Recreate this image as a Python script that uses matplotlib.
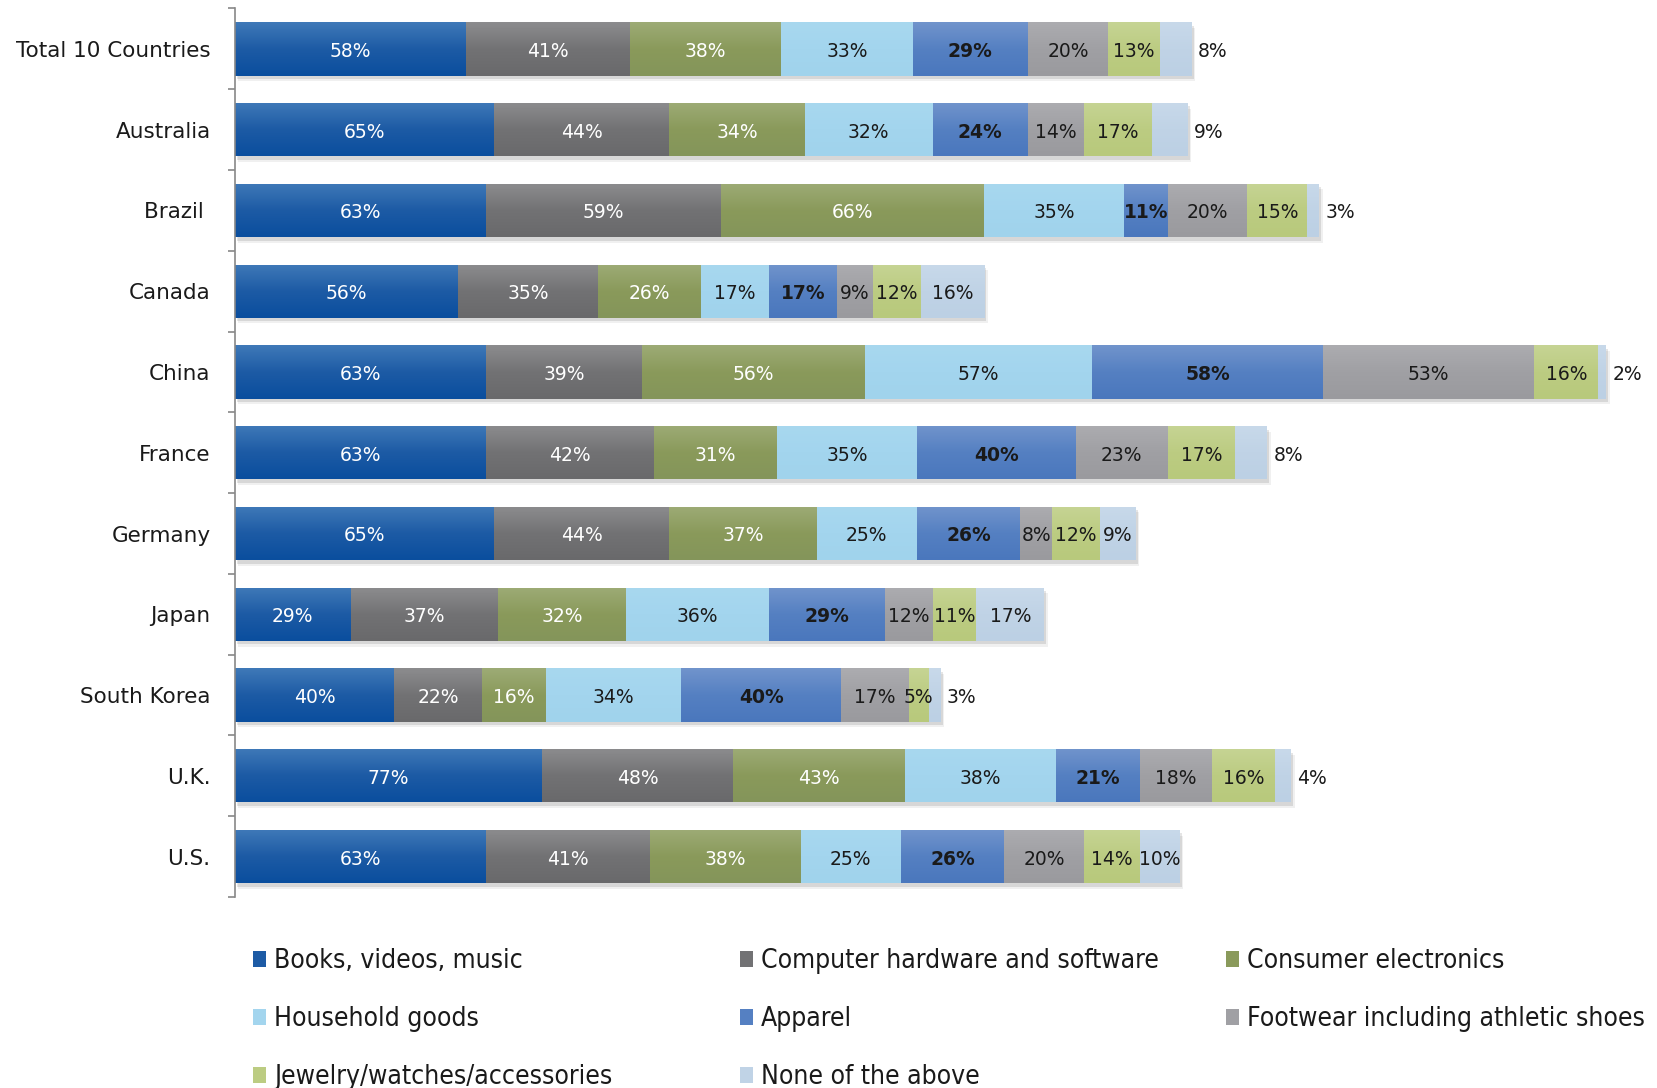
import matplotlib
matplotlib.use("Agg")
import matplotlib.pyplot as plt
import matplotlib.patheffects as pe
from matplotlib.patches import Patch
from matplotlib.colors import to_rgb
import numpy as np

countries = ["Total 10 Countries", "Australia", "Brazil ", "Canada", "China", "France",
             "Germany", "Japan", "South Korea", "U.K.", "U.S."]
categories = ["Books, videos, music", "Computer hardware and software", "Consumer electronics",
              "Household goods", "Apparel", "Footwear including athletic shoes",
              "Jewelry/watches/accessories", "None of the above"]

books      = [58, 65, 63, 56, 63, 63, 65, 29, 40, 77, 63]
computer   = [41, 44, 59, 35, 39, 42, 44, 37, 22, 48, 41]
electronics= [38, 34, 66, 26, 56, 31, 37, 32, 16, 43, 38]
household  = [33, 32, 35, 17, 57, 35, 25, 36, 34, 38, 25]
apparel    = [29, 24, 11, 17, 58, 40, 26, 29, 40, 21, 26]
footwear   = [20, 14, 20,  9, 53, 23,  8, 12, 17, 18, 20]
jewelry    = [13, 17, 15, 12, 16, 17, 12, 11,  5, 16, 14]
none_above = [ 8,  9,  3, 16,  2,  8,  9, 17,  3,  4, 10]
# whether the "None of the above" label sits outside the bar
none_outside = [True, True, True, False, True, True, False, False, True, True, False]

series = [books, computer, electronics, household, apparel, footwear, jewelry, none_above]
colors = ["#1d5ba5", "#727274", "#8a9a5b", "#a3d5ee", "#5580c2", "#a0a0a4", "#bccc82", "#c0d3e6"]
top_colors = ["#3f79b8", "#8c8c8e", "#9dab76", "#a8d8ef", "#7194cc", "#acacb0", "#c6d494", "#c8d9ea"]
bot_colors = ["#0a4e9e", "#69696b", "#84955a", "#a0d3ec", "#4a77bd", "#9a9a9e", "#b8c97c", "#bcd0e4"]
label_colors = ["white", "white", "white", "#1a1a1a", "#1a1a1a", "#1a1a1a", "#1a1a1a", "#1a1a1a"]
label_weights = ["normal", "normal", "normal", "normal", "bold", "normal", "normal", "normal"]

W, H = 1658, 1088
fig = plt.figure(figsize=(W / 100, H / 100), dpi=100)
ax = fig.add_axes([235 / W, 1 - 897 / H, (1650 - 235) / W, (897 - 8.5) / H])

y = np.arange(len(countries))
left = np.zeros(len(countries))
bar_h = 0.66
shadow = [pe.SimplePatchShadow(offset=(2.5, -4), shadow_rgbFace="#000000", alpha=0.06),
          pe.SimplePatchShadow(offset=(1.5, -2.5), shadow_rgbFace="#000000", alpha=0.10),
          pe.Normal()]


def grad(c_top, c_mid, c_bot, n=64):
    t = np.linspace(0, 1, n)[:, None]
    a, b, c = (np.array(to_rgb(x)) for x in (c_top, c_mid, c_bot))
    g = np.where(t < 0.5, a + (b - a) * (t / 0.5), b + (c - b) * ((t - 0.5) / 0.5))
    return g[:, None, :]


for k, (vals, col) in enumerate(zip(series, colors)):
    vals = np.array(vals, dtype=float)
    bars = ax.barh(y, vals, left=left, height=bar_h, color=col, edgecolor="none", zorder=1)
    g = grad(top_colors[k], col, bot_colors[k])
    for i, b in enumerate(bars):
        b.set_path_effects(shadow)
        im = ax.imshow(g, extent=(left[i], left[i] + vals[i], y[i] + bar_h / 2, y[i] - bar_h / 2),
                       aspect="auto", origin="upper", zorder=1.5, interpolation="bilinear")
        im.set_clip_path(b)
    for i, v in enumerate(vals):
        cx = left[i] + v / 2
        if k == len(series) - 1 and none_outside[i]:
            ax.text(left[i] + v + 1.5, y[i] + 0.03, f"{int(v)}%", ha="left", va="center",
                    fontsize=13.5, color="#1a1a1a", zorder=3)
        else:
            ax.text(cx, y[i] + 0.03, f"{int(v)}%", ha="center", va="center", fontsize=13.5,
                    color=label_colors[k], fontweight=label_weights[k], zorder=3)
    left = left + vals

ax.set_xlim(0, 355)
ax.set_ylim(len(countries) - 0.5, -0.5)
ax.set_yticks(y)
ax.set_yticklabels(countries, fontsize=15.5, color="#1a1a1a")
ax.set_yticks(np.arange(-0.5, len(countries) + 0.5, 1), minor=True)
ax.tick_params(axis="y", which="major", length=0, pad=17.5)
ax.tick_params(axis="y", which="minor", length=5, color="#888888", width=1.2)
ax.set_xticks([])
for s in ["top", "right", "bottom"]:
    ax.spines[s].set_visible(False)
ax.spines["left"].set_color("#888888")
ax.spines["left"].set_linewidth(1.2)

proxies = [Patch(facecolor=c, edgecolor="none") for c in colors]
legend_font = {"family": "DejaVu Sans", "stretch": "condensed", "size": 19}
col_x = [253 / W, 740 / W, 1226 / W]
cols = [[0, 3, 6], [1, 4, 7], [2, 5]]
for cx, idxs in zip(col_x, cols):
    leg = fig.legend([proxies[i] for i in idxs], [categories[i] for i in idxs],
                     loc="upper left", bbox_to_anchor=(cx, 1 - 948 / H),
                     frameon=False, prop=legend_font, handlelength=0.5, handleheight=0.55,
                     handletextpad=0.3, labelspacing=1.22, borderaxespad=0, borderpad=0)
    for t in leg.get_texts():
        t.set_color("#1a1a1a")

fig.savefig("out.png", dpi=100)
